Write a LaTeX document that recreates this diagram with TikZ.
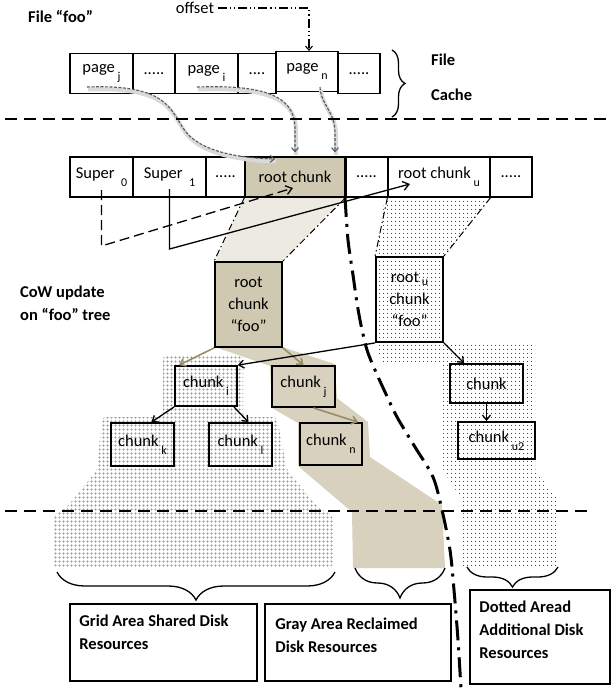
\documentclass[tikz,border=0pt]{standalone}
\usepackage{fontspec}
\setmainfont{Carlito}
\usetikzlibrary{arrows.meta,patterns.meta,decorations.pathreplacing}

\definecolor{tanbox}{RGB}{208,201,178}
\definecolor{tanband}{RGB}{215,209,190}
\definecolor{tanlight}{RGB}{237,235,225}
\definecolor{arrowolive}{RGB}{150,141,102}
\newcommand\sub[2][0.5em]{\,\raisebox{-#1}{\fontsize{12}{12}\selectfont #2}}

\begin{document}
\begin{tikzpicture}[x=1pt,y=-1pt,
  every node/.style={font=\fontsize{16.5}{20}\selectfont},
  cell/.style={draw,line width=1.2pt,minimum height=40,inner sep=0},
  box/.style={draw,line width=1.8pt,inner sep=0},
  tag/.style={anchor=west,align=left,inner sep=0,font=\bfseries\fontsize{16.5}{23}\selectfont},
  resbox/.style={draw,line width=1.6pt},
  olivearrow/.style={draw=arrowolive,line width=1.6pt,-{Straight Barb[length=5pt,width=8pt]}},
  treearrow/.style={line width=1.3pt,-{Straight Barb[length=5pt,width=8pt]}},
  pagelink/.style={draw=black!65,line width=1.1pt,dash pattern=on 3pt off 1.5pt,
    -{Straight Barb[length=4pt,width=7pt]},
    preaction={draw=black!15,line width=4pt,solid,arrows=-,transform canvas={xshift=1pt,yshift=-2.5pt}}},
  superlink/.style={line width=1.3pt,-{Straight Barb[length=6pt,width=9pt]}},
  offsetline/.style={line width=1.1pt,dash pattern=on 9pt off 3pt on 1.2pt off 3pt on 1.2pt off 3pt,
    -{Straight Barb[length=4pt,width=7pt]}},
  edgeline/.style={line width=1pt,dash pattern=on 7pt off 3pt on 1.5pt off 3pt},
  splitline/.style={line width=3pt,dash pattern=on 20pt off 7pt on 3pt off 7pt},
  sepline/.style={line width=1.5pt,dash pattern=on 12pt off 7pt},
  curly/.style={decorate,decoration={brace,amplitude=#1},line width=1.3pt}]
\useasboundingbox (0,0) rectangle (612,689);

% shaded areas
\fill[tanlight] (245,197) -- (345,197) -- (282,262) -- (215,262) -- cycle;
\fill[tanband] (215,347) -- (282,347) -- (335,364) -- (337,398) -- (368,422) -- (370,457)
  -- (442,505) -- (445,568) -- (353,568) -- (352,512) -- (298,466) -- (298,423)
  -- (272,408) -- (270,366) -- cycle;
\fill[pattern={Hatch[angle=0,distance=4pt,line width=0.35pt]},pattern color=black!60,rounded corners=4pt]
  (163,355) -- (243,355) -- (243,417) -- (277,417) -- (287,470) -- (318,507) -- (333,516)
  -- (333,567) -- (53,567) -- (53,516) -- (67,507) -- (97,470) -- (102,417) -- (163,417) -- cycle;
\fill[pattern={Dots[distance=4pt,radius=0.6pt]},pattern color=black,rounded corners=3pt]
  (385,197) -- (490,197) -- (443,257) -- (443,342) -- (535,342) -- (535,470) -- (558,500)
  -- (558,567) -- (462,567) -- (462,500) -- (443,470) -- (443,364) -- (382,364) -- (376,342)
  -- (376,257) -- cycle;

% file cache
\node[tag] (filefoo) at (28,16) {File “foo”};
\node (offset) at (195,8) {offset};
\coordinate (offbend) at (309,8);
\node[cell,minimum width=63] (pagej) at (101.5,73.5) {page\sub{j}};
\node[cell,minimum width=42] (pdots1) at (154,73.5) {.....};
\node[cell,minimum width=63] (pagei) at (206.5,73.5) {page\sub{i}};
\node[cell,minimum width=38] (pdots2) at (257,73.5) {....};
\node[cell,minimum width=42] (pdots3) at (359,73.5) {.....};
\node[cell,fill=white,minimum width=62] (pagen) at (307,71.5) {page\sub{n}};
\node[tag] (filetag) at (431,60) {File};
\node[tag] (cachetag) at (431,95) {Cache};

% disk
\node[cell,minimum width=63] (super0) at (101.5,177) {Super \sub{0}};
\node[cell,minimum width=73] (super1) at (169.5,177) {Super \sub{1}};
\node[cell,minimum width=39] (sdots1) at (225.5,177) {.....};
\node[cell,fill=tanbox,minimum width=100] (rootc) at (295,177) {root chunk};
\node[cell,minimum width=43] (sdots2) at (366.5,177) {.....};
\node[cell,minimum width=102] (rootcu) at (439,177) {root chunk\sub{u}};
\node[cell,minimum width=42] (sdots3) at (511,177) {.....};

% tree
\node[tag] (cowtag) at (20,303.5) {CoW update\\on “foo” tree};
\node[box,fill=tanbox,minimum width=67,minimum height=85,align=center,font=\fontsize{16.5}{22}\selectfont]
  (rootfoo) at (248.5,304.5) {root\\chunk\\“foo”};
\node[box,minimum width=67,minimum height=85,align=center,font=\fontsize{16.5}{22}\selectfont]
  (rootufoo) at (409.5,299.5) {root\sub[0.15em]{u}\\chunk\\“foo”};
\node[box,minimum width=62,minimum height=40] (chunki) at (206,386) {chunk\sub{i}};
\node[box,fill=tanband,minimum width=63,minimum height=41] (chunkj) at (303.5,386.5) {chunk\sub{j}};
\node[box,minimum width=73,minimum height=39] (chunkb) at (486.5,383.5) {chunk};
\node[box,minimum width=63,minimum height=43] (chunkk) at (142.5,444.5) {chunk\sub{k}};
\node[box,minimum width=63,minimum height=43] (chunkl) at (240.5,444.5) {chunk\sub{l}};
\node[box,fill=tanband,minimum width=62,minimum height=42] (chunkn) at (331,444) {chunk\sub{n}};
\node[box,minimum width=77,minimum height=37] (chunku) at (496.5,440.5) {chunk\sub{u2}};

\draw[edgeline] (rootc.south west) -- (rootfoo.north west);
\draw[edgeline] (rootc.south east) -- (rootfoo.north east);
\draw[edgeline] (rootcu.south west) -- (rootufoo.north west);
\draw[edgeline] (rootcu.south east) -- (rootufoo.north east);

\draw[olivearrow] (rootfoo.south west) -- ([xshift=5pt]chunki.north west);
\draw[olivearrow] (rootfoo.south east) -- (chunkj.north);
\draw[olivearrow] ([xshift=10pt]chunkj.south) -- ([xshift=-5pt]chunkn.north east);
\draw[treearrow] (rootufoo.south west) -- (chunki.north east);
\draw[treearrow] (rootufoo.south east) -- ([xshift=15pt]chunkb.north west);
\draw[treearrow] (chunkb.south) -- (chunkb.south |- chunku.north);
\draw[treearrow] (chunki.south west) -- ([xshift=9pt]chunkk.north);
\draw[treearrow] ([xshift=-4pt]chunki.south east) -- ([xshift=8pt]chunkl.north);

% links
\draw[offsetline] (offset.east) -- (offbend) -- (offbend |- pagen.north);
\draw[pagelink] ([shift={(-14.5,13.5)}]pagej.center) .. controls (165,84) and (170,108) .. (183,128)
  .. controls (198,152) and (240,158) .. ([shift={(-20,-18)}]rootc.center);
\draw[pagelink] ([shift={(-9.5,13.5)}]pagei.center) .. controls (255,85) and (295,92) .. (295,128)
  -- ([shift={(0,-4)}]rootc.north);
\draw[pagelink] ([shift={(13,15.5)}]pagen.center) .. controls (321,105) and (335,112) .. (335,132)
  -- ([shift={(40,-4)}]rootc.north);
\draw[superlink,dash pattern=on 10pt off 5pt] ([shift={(0,13)}]super0.center) -- ++(0,56)
  -- ([shift={(-2,11)}]rootc.center);
\draw[superlink] ([shift={(0,12)}]super1.center) -- ++(0,60) -- ([shift={(-29,7)}]rootcu.center);

% separators
\draw[sepline] (5,119) -- (606,119);
\draw[sepline] (5,511) -- (590,511);
\draw[line width=3pt] (rootc.north east) -- (rootc.south east);
\draw[splitline] plot[smooth] coordinates {(345,197) (348,240) (353,275) (357,303) (361,325)
  (367,350) (375,370) (385,392) (397,417) (415,447) (433,477) (442,510) (450,550) (454,590)
  (458,640) (461,689)};

% braces
\draw[curly=13pt] (392,50) -- (392,117);
\draw[curly=28pt] (335,572) -- (57,572);
\draw[curly=30pt] (445,568) -- (355,568);
\draw[curly=20pt] (558,567) -- (467,567);

% resources
\node[resbox,minimum width=187,minimum height=77] (gridres) at (163.5,642.5) {};
\node[tag] at ([shift={(10,-10.5)}]gridres.west) {Grid Area Shared Disk\\Resources};
\node[resbox,minimum width=186,minimum height=77] (grayres) at (358,642.5) {};
\node[tag] at ([shift={(11,-7.5)}]grayres.west) {Gray Area Reclaimed\\Disk Resources};
\node[resbox,minimum width=140,minimum height=94] (dotres) at (540,637) {};
\node[tag] at ([shift={(10,-7.5)}]dotres.west) {Dotted Aread\\Additional Disk\\Resources};
\end{tikzpicture}
\end{document}
